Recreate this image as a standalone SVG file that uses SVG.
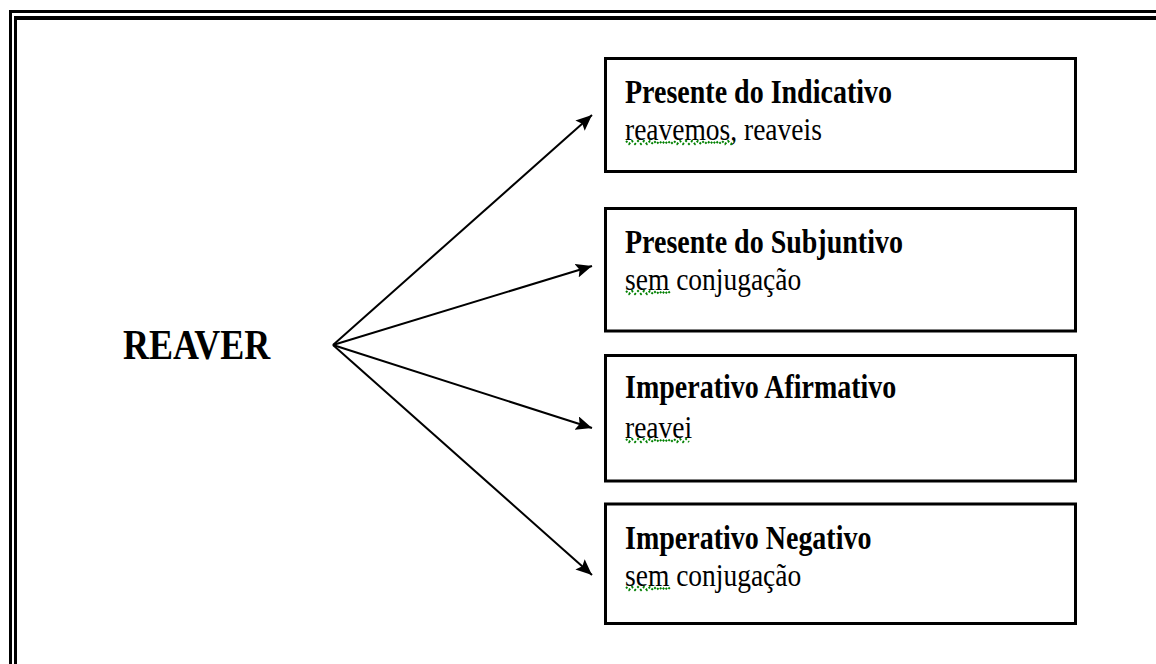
<svg xmlns="http://www.w3.org/2000/svg" width="1156" height="664" viewBox="0 0 1156 664">
<style>
.box{fill:#fff;stroke:#000;stroke-width:3}
.t{font-family:"Liberation Serif","Times New Roman",serif;font-weight:bold;font-size:28px;fill:#000}
.s{font-family:"Liberation Serif","Times New Roman",serif;font-size:27.5px;fill:#000}
.big{font-family:"Liberation Serif","Times New Roman",serif;font-weight:bold;font-size:36px;fill:#000}
.conn{stroke:#000;stroke-width:2;fill:none}
.sq{stroke:#008000;stroke-width:2;fill:none;stroke-dasharray:2 2}
.frame{stroke:#000;fill:none}
</style>
<defs>
<marker id="ah" markerUnits="userSpaceOnUse" markerWidth="18" markerHeight="14" refX="16" refY="7" orient="auto">
<path d="M0,0 L16,7 L0,14 L3,7 z" fill="#000"/>
</marker>
</defs>
<rect width="1156" height="664" fill="#fff"/>
<g id="frame">
<line class="frame" x1="9" y1="11.5" x2="1156" y2="11.5" stroke-width="3"/>
<line class="frame" x1="14" y1="18" x2="1156" y2="18" stroke-width="4"/>
<line class="frame" x1="10.5" y1="10" x2="10.5" y2="664" stroke-width="3"/>
<line class="frame" x1="15.5" y1="16" x2="15.5" y2="664" stroke-width="3"/>
</g>
<g id="connectors">
<line class="conn" x1="333" y1="345" x2="592" y2="115" marker-end="url(#ah)"/>
<line class="conn" x1="333" y1="345" x2="592" y2="266" marker-end="url(#ah)"/>
<line class="conn" x1="333" y1="345" x2="592" y2="428" marker-end="url(#ah)"/>
<line class="conn" x1="333" y1="345" x2="592" y2="575" marker-end="url(#ah)"/>
</g>
<g id="reaver">
<text class="big" transform="translate(123,359) scale(1,1.2)">REAVER</text>
</g>
<g id="box1">
<rect class="box" x="605.5" y="58.5" width="470" height="113"/>
<text class="t" transform="translate(625,103) scale(1,1.17)">Presente do Indicativo</text>
<text class="s" transform="translate(625,140) scale(1,1.17)">reavemos, reaveis</text>
<path class="sq" d="M626,141 l3,3 l3,-3 l3,3 l3,-3 l3,3 l3,-3 l3,3 l3,-3 l3,3 l3,-3 l3,3 l3,-3 l3,3 l3,-3 l3,3 l3,-3 l3,3 l3,-3 l3,3 l3,-3 l3,3 l3,-3 l3,3 l3,-3 l3,3 l3,-3 l3,3 l3,-3 l3,3 l3,-3 l3,3 l3,-3 l3,3 l3,-3 l3,3 l3,-3"/>
</g>
<g id="box2">
<rect class="box" x="605.5" y="208.5" width="470" height="122.5"/>
<text class="t" transform="translate(625,253) scale(1,1.17)">Presente do Subjuntivo</text>
<text class="s" transform="translate(625,290) scale(1,1.17)">sem conjugação</text>
<path class="sq" d="M626,291 l3,3 l3,-3 l3,3 l3,-3 l3,3 l3,-3 l3,3 l3,-3 l3,3 l3,-3 l3,3 l3,-3 l3,3 l3,-3 l3,3"/>
</g>
<g id="box3">
<rect class="box" x="605.5" y="355.5" width="470" height="125.5"/>
<text class="t" transform="translate(625,398) scale(1,1.17)">Imperativo Afirmativo</text>
<text class="s" transform="translate(625,438) scale(1,1.17)">reavei</text>
<path class="sq" d="M626,439 l3,3 l3,-3 l3,3 l3,-3 l3,3 l3,-3 l3,3 l3,-3 l3,3 l3,-3 l3,3 l3,-3 l3,3 l3,-3 l3,3 l3,-3 l3,3 l3,-3 l3,3 l3,-3 l3,3"/>
</g>
<g id="box4">
<rect class="box" x="605.5" y="504" width="470" height="119.5"/>
<text class="t" transform="translate(625,549) scale(1,1.17)">Imperativo Negativo</text>
<text class="s" transform="translate(625,586) scale(1,1.17)">sem conjugação</text>
<path class="sq" d="M626,587 l3,3 l3,-3 l3,3 l3,-3 l3,3 l3,-3 l3,3 l3,-3 l3,3 l3,-3 l3,3 l3,-3 l3,3 l3,-3 l3,3"/>
</g>
</svg>
